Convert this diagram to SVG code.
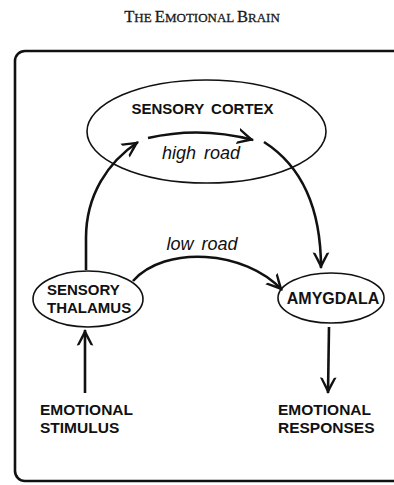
<svg xmlns="http://www.w3.org/2000/svg" width="394" height="485" viewBox="0 0 394 485">
<style>
.title{font-family:"Liberation Serif","Times New Roman",serif;fill:#1a1a1a;stroke:#1a1a1a;stroke-width:0.3}
.lbl{font-family:"Liberation Sans",Arial,sans-serif;font-weight:bold;fill:#111}
.it{font-family:"Liberation Sans",Arial,sans-serif;font-style:italic;font-size:18px;fill:#111;word-spacing:3px}
.node{fill:#fff;stroke:#111;stroke-width:1.6}
.conn{fill:none;stroke:#111;stroke-width:2.6;marker-end:url(#arr)}
</style>
<defs>
<marker id="arr" markerUnits="userSpaceOnUse" markerWidth="24" markerHeight="20" viewBox="-18 -9 20 18" refX="0" refY="0" orient="auto">
<path d="M1,0 L-14,-7.5 L-13.5,-5 Q-8,-2 -4,0 Q-8,2 -13.5,5 L-14,7.5 Z" fill="#111"/>
</marker>
</defs>
<rect width="394" height="485" fill="#fff"/>
<text class="title" x="202" y="22" text-anchor="middle"><tspan font-size="16.5">T</tspan><tspan font-size="13">HE </tspan><tspan font-size="16.5">E</tspan><tspan font-size="13">MOTIONAL </tspan><tspan font-size="16.5">B</tspan><tspan font-size="13">RAIN</tspan></text>
<rect x="15" y="51" width="400" height="430" rx="10" fill="none" stroke="#111" stroke-width="2.6"/>
<g id="sensory-cortex">
<ellipse class="node" cx="206.5" cy="131.5" rx="119.5" ry="51.5"/>
<text class="lbl" x="202.5" y="114" font-size="15" text-anchor="middle" word-spacing="3">SENSORY CORTEX</text>
</g>
<g id="sensory-thalamus">
<ellipse class="node" cx="88" cy="299" rx="55" ry="28"/>
<text class="lbl" x="47" y="295" font-size="15">SENSORY</text>
<text class="lbl" x="47" y="313" font-size="15">THALAMUS</text>
</g>
<g id="amygdala">
<ellipse class="node" cx="331" cy="298" rx="53" ry="25"/>
<text class="lbl" x="333" y="304" font-size="16" text-anchor="middle">AMYGDALA</text>
</g>
<g id="emotional-stimulus">
<text class="lbl" x="40" y="415" font-size="15.5">EMOTIONAL</text>
<text class="lbl" x="40" y="433" font-size="15.5">STIMULUS</text>
</g>
<g id="emotional-responses">
<text class="lbl" x="278" y="415" font-size="15.5">EMOTIONAL</text>
<text class="lbl" x="278" y="433" font-size="15.5">RESPONSES</text>
</g>
<g id="connectors">
<path class="conn" d="M148,138 Q200,126 253,140"/>
<path class="conn" d="M86,270 L86,238 C86,195 108,162 138,142"/>
<path class="conn" d="M264,142 C300,165 321,205 321,268"/>
<path class="conn" d="M133,281 C165,245 245,250 282,290"/>
<path class="conn" d="M329,327 L328,393"/>
<path class="conn" d="M85,393 L85,330"/>
<text class="it" x="201" y="159" text-anchor="middle">high road</text>
<text class="it" x="202" y="250" text-anchor="middle">low road</text>
</g>
</svg>
